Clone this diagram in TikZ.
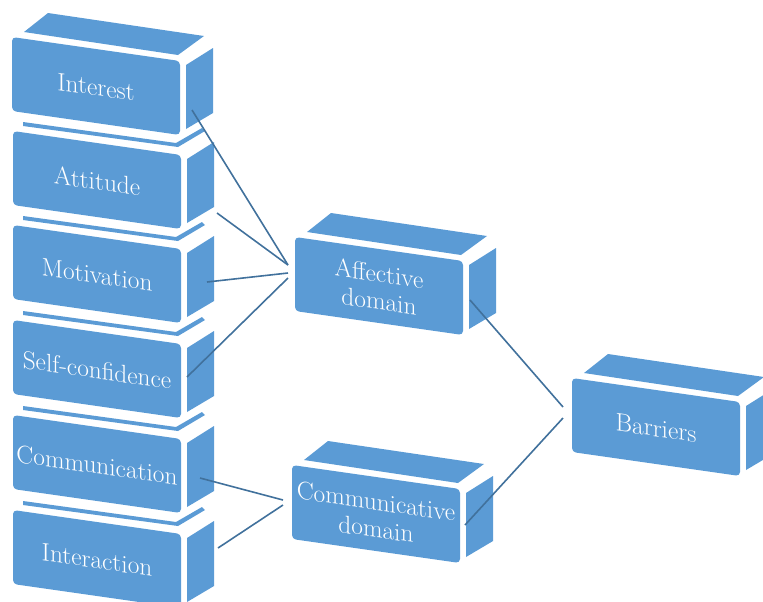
\documentclass[tikz,border=0pt]{standalone}
\usepackage{tikz}
\definecolor{blockblue}{RGB}{91,155,213}
\definecolor{linkblue}{RGB}{65,113,156}
\tikzset{
  face/.style={fill=blockblue},
  frontface/.style={fill=blockblue, rounded corners=3pt},
  blocktext/.style={text=white, font=\fontsize{19}{20.5}\selectfont,
    align=center, inner sep=0pt, yslant=-0.143},
  link/.style={draw=linkblue, line width=1.2pt}
}
% front and side of one block: #1 name, #2 x, #3 y (pixels, y down), #4 text
\newcommand{\blockbase}[4]{%
  \begin{scope}[shift={(#2,#3)}]
    \fill[frontface] (0,0) -- (168,24) -- (168,98) -- (0,74) -- cycle;
    \fill[face] (174,28) -- (201,11) -- (201,76) -- (174,92) -- cycle;
    \node[blocktext] (#1) at (84,50) {#4};
  \end{scope}}
% block with its whole top
\newcommand{\fullblock}[4]{%
  \begin{scope}[shift={(#2,#3)}]
    \fill[face] (12,-5) -- (36,-24) -- (192,-1) -- (166,18) -- cycle;
  \end{scope}
  \blockbase{#1}{#2}{#3}{#4}}
% block under another one: only a strip of its top shows
\newcommand{\stackblock}[4]{%
  \begin{scope}[shift={(#2,#3)}]
    \fill[face] (10,-9) -- (163,12) -- (189,-3) -- (192,0) -- (165,16) -- (10,-5) -- cycle;
  \end{scope}
  \blockbase{#1}{#2}{#3}{#4}}

\begin{document}
\begin{tikzpicture}[x=0.75pt, y=-0.75pt]
  \useasboundingbox (0,0) rectangle (763,601);
  \clip (0,0) rectangle (763,601);

  % Left column
  \fullblock{interest}{12}{37}{Interest}
  \stackblock{attitude}{13}{131}{Attitude}
  \stackblock{motivation}{13}{225}{Motivation}
  \stackblock{selfconf}{13}{320}{Self-confidence}
  \stackblock{communication}{13}{415}{Communication}
  \stackblock{interaction}{13}{510}{Interaction}

  % Domains
  \fullblock{affective}{295}{237}{Affective\\domain}
  \fullblock{communicative}{292}{465}{Communicative\\domain}

  % Result
  \fullblock{barriers}{572}{378}{Barriers}

  % Connector ends
  \coordinate (interest-out) at (192,110);
  \coordinate (attitude-out) at (217,213);
  \coordinate (motivation-out) at (207,282);
  \coordinate (selfconf-out) at (187,377);
  \coordinate (communication-out) at (200,478);
  \coordinate (interaction-out) at (218,548);
  \coordinate (affective-in1) at (288,265);
  \coordinate (affective-in2) at (288,273);
  \coordinate (affective-in3) at (288,278);
  \coordinate (communicative-in1) at (283,500);
  \coordinate (communicative-in2) at (283,505);
  \coordinate (affective-out) at (470,300);
  \coordinate (communicative-out) at (465,525);
  \coordinate (barriers-in1) at (563,407);
  \coordinate (barriers-in2) at (563,418);

  % Connectors
  \draw[link] (interest-out) -- (affective-in1);
  \draw[link] (attitude-out) -- (affective-in1);
  \draw[link] (motivation-out) -- (affective-in2);
  \draw[link] (selfconf-out) -- (affective-in3);
  \draw[link] (communication-out) -- (communicative-in1);
  \draw[link] (interaction-out) -- (communicative-in2);
  \draw[link] (affective-out) -- (barriers-in1);
  \draw[link] (communicative-out) -- (barriers-in2);
\end{tikzpicture}
\end{document}
